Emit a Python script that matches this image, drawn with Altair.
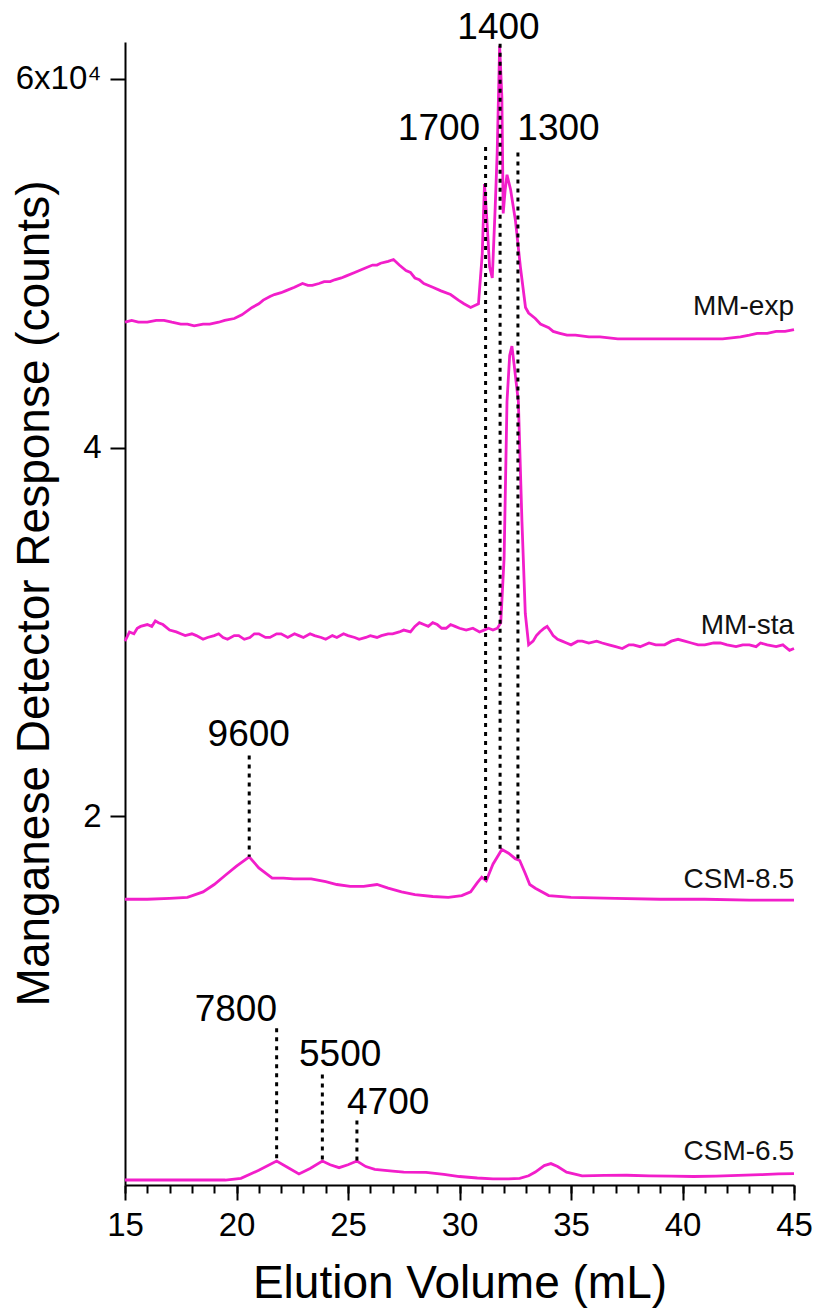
import altair as alt
import pandas as pd

# ---------------- data ----------------
mm_exp_x = [15.0, 15.3, 15.6, 16.0, 16.4, 16.75, 17.1, 17.5, 17.8, 18.1, 18.5, 18.8, 19.2, 19.47,
            19.9, 20.24, 20.7, 21.0, 21.2, 21.5, 21.7, 22.0, 22.2, 22.6, 22.96, 23.2, 23.4, 23.7,
            23.93, 24.2, 24.4, 24.7, 24.9, 25.3, 25.7, 26.1, 26.3, 26.46, 26.8, 27.04, 27.3, 27.6,
            27.8, 28.0, 28.2, 28.4, 28.8, 29.17, 29.6, 29.95, 30.2, 30.5, 30.85, 31.02, 31.12,
            31.22, 31.35, 31.47, 31.6, 31.69, 31.8, 31.9, 31.96, 32.05, 32.13, 32.29, 32.51, 32.73,
            32.96, 33.1, 33.4, 33.63, 34.0, 34.2, 34.5, 34.82, 35.2, 35.8, 36.3, 37.1, 38.0, 39.1,
            40.0, 41.0, 41.8, 42.6, 43.0, 43.35, 43.8, 44.2, 44.6, 45.0]
mm_exp_y = [4.68, 4.69, 4.68, 4.68, 4.69, 4.69, 4.68, 4.67, 4.67, 4.66, 4.67, 4.67, 4.68, 4.69,
            4.70, 4.72, 4.76, 4.78, 4.80, 4.82, 4.83, 4.84, 4.85, 4.87, 4.89, 4.88, 4.88, 4.89,
            4.90, 4.90, 4.91, 4.92, 4.93, 4.95, 4.97, 4.99, 4.99, 5.00, 5.01, 5.02, 4.99, 4.96,
            4.95, 4.92, 4.91, 4.89, 4.87, 4.85, 4.83, 4.80, 4.78, 4.76, 4.78, 5.05, 5.43,
            5.25, 4.98, 4.92, 5.30, 5.60, 6.18, 5.90, 5.27, 5.40, 5.48, 5.40, 5.23, 4.98,
            4.76, 4.73, 4.70, 4.67, 4.65, 4.63, 4.62, 4.61, 4.61, 4.60, 4.60, 4.59, 4.59, 4.59,
            4.59, 4.59, 4.59, 4.60, 4.61, 4.62, 4.62, 4.63, 4.63, 4.64]

mm_sta_x = [15.0, 15.2, 15.4, 15.55, 15.7, 16.0, 16.2, 16.36, 16.5, 16.7, 17.0, 17.3, 17.5, 17.7,
            18.0, 18.2, 18.5, 18.7, 19.0, 19.2, 19.4, 19.6, 19.9, 20.1, 20.35, 20.6, 20.8, 21.0,
            21.3, 21.5, 21.8, 22.0, 22.3, 22.6, 22.8, 23.0, 23.3, 23.5, 23.8, 24.0, 24.3, 24.5,
            24.8, 25.0, 25.3, 25.5, 25.8, 26.0, 26.3, 26.5, 26.8, 27.0, 27.3, 27.5, 27.8, 28.0,
            28.2, 28.4, 28.6, 28.8, 29.0, 29.2, 29.4, 29.6, 29.8, 30.0, 30.3, 30.6, 30.9, 31.1,
            31.3, 31.5, 31.7, 31.85, 32.0, 32.13, 32.25, 32.35, 32.45, 32.64, 32.8, 32.95, 33.1,
            33.3, 33.45, 33.6, 33.8, 33.93, 34.1, 34.2, 34.4, 34.6, 34.8, 35.0, 35.3, 35.5, 35.8,
            36.15, 36.4, 36.7, 37.0, 37.3, 37.6, 37.8, 38.1, 38.5, 38.8, 39.2, 39.5, 39.8, 40.1,
            40.4, 40.7, 41.0, 41.4, 41.7, 42.0, 42.4, 42.7, 43.0, 43.3, 43.5, 43.8, 44.2, 44.5,
            44.8, 45.0]
mm_sta_y = [2.95, 3.00, 2.99, 3.02, 3.03, 3.04, 3.03, 3.06, 3.05, 3.04, 3.01, 3.00, 2.99, 2.98,
            2.99, 2.98, 2.96, 2.97, 2.98, 2.99, 2.97, 2.96, 2.98, 2.98, 2.96, 2.97, 2.99, 2.99,
            2.97, 2.97, 2.99, 2.99, 2.97, 2.99, 2.98, 2.97, 2.99, 2.98, 2.97, 2.96, 2.98, 2.97,
            2.99, 2.98, 2.97, 2.96, 2.97, 2.98, 2.97, 2.98, 2.99, 2.99, 3.00, 3.01, 3.00, 3.03,
            3.05, 3.04, 3.03, 3.05, 3.04, 3.02, 3.02, 3.04, 3.03, 3.02, 3.01, 3.02, 3.00, 3.01,
            3.02, 3.01, 3.02, 3.05, 3.40, 4.25, 4.50, 4.55, 4.45, 4.25, 3.60, 3.10, 2.93,
            2.95, 2.98, 3.00, 3.02, 3.03, 3.00, 2.98, 2.96, 2.95, 2.94, 2.93, 2.95, 2.95, 2.94,
            2.95, 2.94, 2.93, 2.92, 2.91, 2.93, 2.93, 2.92, 2.94, 2.93, 2.93, 2.95, 2.96, 2.95,
            2.94, 2.93, 2.93, 2.94, 2.94, 2.93, 2.92, 2.93, 2.93, 2.92, 2.94, 2.93, 2.92, 2.93,
            2.90, 2.91]

csm85_x = [15.0, 16.0, 17.0, 17.8, 18.5, 19.0, 19.5, 20.0, 20.57, 21.0, 21.6, 22.1, 22.57, 23.35,
           24.0, 24.5, 25.1, 25.7, 26.3, 26.8, 27.4, 28.0, 28.8, 29.5, 30.1, 30.5, 30.8, 31.0,
           31.2, 31.5, 31.9, 32.2, 32.5, 32.7, 32.95, 33.15, 33.4, 34.0, 35.0, 37.0, 39.0, 41.0,
           43.0, 45.0]
csm85_y = [1.55, 1.55, 1.555, 1.56, 1.59, 1.63, 1.68, 1.73, 1.78, 1.72, 1.665, 1.665, 1.66, 1.66,
           1.645, 1.63, 1.62, 1.62, 1.63, 1.61, 1.59, 1.575, 1.565, 1.56, 1.57, 1.59, 1.64, 1.67,
           1.65, 1.74, 1.82, 1.80, 1.77, 1.76, 1.69, 1.63, 1.61, 1.57, 1.56, 1.555, 1.55, 1.55,
           1.545, 1.545]

csm65_x = [15.0, 17.0, 19.5, 20.2, 21.0, 21.8, 22.3, 22.8, 23.3, 23.85, 24.2, 24.6, 25.0, 25.4,
           25.8, 26.2, 27.0, 27.5, 28.5, 29.3, 30.0, 30.8, 31.5, 32.2, 32.7, 33.1, 33.4, 33.8,
           34.1, 34.4, 34.8, 35.5, 36.5, 37.5, 38.5, 39.5, 40.5, 41.5, 42.5, 43.5, 44.3, 45.0]
csm65_y = [0.027, 0.027, 0.027, 0.036, 0.08, 0.13, 0.095, 0.06, 0.09, 0.13, 0.11, 0.094, 0.11, 0.13,
           0.10, 0.085, 0.075, 0.07, 0.068, 0.058, 0.046, 0.038, 0.033, 0.033, 0.036, 0.05, 0.07, 0.105,
           0.116, 0.10, 0.07, 0.05, 0.052, 0.053, 0.05, 0.048, 0.046, 0.048, 0.052, 0.056, 0.06, 0.062]

series_names = ["MM-exp", "MM-sta", "CSM-8.5", "CSM-6.5"]
series_label_y = [4.72, 2.99, 1.61, 0.136]

# marker lines (molecular weight annotations)
mw_labels = ["1700", "1400", "1300", "9600", "7800", "5500", "4700"]
mw_line_x = [31.17, 31.82, 32.62, 20.57, 21.8, 23.85, 25.4]
mw_line_top = [5.63, 6.19, 5.60, 2.33, 0.85, 0.60, 0.35]
mw_line_bottom = [1.65, 1.82, 1.77, 1.78, 0.13, 0.13, 0.13]
mw_text_x = [29.08, 31.75, 34.44, 20.55, 19.97, 24.65, 26.8]
mw_text_y = [5.67, 6.215, 5.67, 2.38, 0.89, 0.645, 0.385]

x_major = [15, 20, 25, 30, 35, 40, 45]
x_minor = list(range(15, 46))
y_major = [2, 4, 6]

# ---------------- tables ----------------
frames = []
for name, xs, ys in zip(series_names, [mm_exp_x, mm_sta_x, csm85_x, csm65_x],
                        [mm_exp_y, mm_sta_y, csm85_y, csm65_y]):
    frames.append(pd.DataFrame({"series": name, "x": xs, "y": ys}))
traces = pd.concat(frames, ignore_index=True)

rules_df = pd.DataFrame({"x": mw_line_x, "y1": mw_line_top, "y2": mw_line_bottom})
ann_df = pd.DataFrame({"x": mw_text_x, "y": mw_text_y, "label": mw_labels})
lab_df = pd.DataFrame({"x": [45] * 4, "y": series_label_y, "label": series_names})
minor_df = pd.DataFrame({"x": x_minor})

FONT = "Liberation Sans"
MAGENTA = "#F21ECA"
W, H = 669, 1143

x_scale = alt.Scale(domain=[15, 45], nice=False, zero=False)
y_scale = alt.Scale(domain=[0, 6.2], nice=False, zero=False)

lines = alt.Chart(traces).mark_line(color=MAGENTA, strokeWidth=2.8).encode(
    x=alt.X("x:Q", scale=x_scale,
            axis=alt.Axis(values=x_major, title="Elution Volume (mL)", tickSize=15,
                          labelPadding=9, labelFontSize=33, labelFlush=False, labelOverlap=False,
                          titleFontSize=46, titleFontWeight="normal", titleX=W / 2, titleY=112,
                          titleAlign="center", titleBaseline="alphabetic", grid=False)),
    y=alt.Y("y:Q", scale=y_scale,
            axis=alt.Axis(values=y_major, title="Manganese Detector Response (counts)",
                          labelExpr="datum.value == 6 ? '6x10\u2074' : format(datum.value, 'd')",
                          tickSize=15, labelPadding=9, labelFontSize=33, labelFlush=False,
                          labelOverlap=False, titleFontSize=46, titleFontWeight="normal",
                          titleAngle=270, titleX=-77, titleY=551, titleAlign="center",
                          titleBaseline="alphabetic", grid=False)),
    detail="series:N",
)

rules = alt.Chart(rules_df).mark_rule(color="black", strokeWidth=3, strokeDash=[4, 5]).encode(
    x=alt.X("x:Q", scale=x_scale), y=alt.Y("y1:Q", scale=y_scale), y2="y2:Q")

ann = alt.Chart(ann_df).mark_text(font=FONT, fontSize=37, align="center",
                                  baseline="alphabetic", color="black").encode(
    x=alt.X("x:Q", scale=x_scale), y=alt.Y("y:Q", scale=y_scale), text="label:N")

labs = alt.Chart(lab_df).mark_text(font=FONT, fontSize=28, align="right",
                                   baseline="alphabetic", color="#111111").encode(
    x=alt.X("x:Q", scale=x_scale), y=alt.Y("y:Q", scale=y_scale), text="label:N")

main = alt.layer(lines, rules, ann, labs)

minor = alt.Chart(minor_df).mark_point(opacity=0).encode(
    x=alt.X("x:Q", scale=x_scale,
            axis=alt.Axis(values=x_minor, orient="bottom", labels=False, domain=False,
                          tickSize=8, title="", grid=False)))

chart = alt.layer(main, minor).resolve_scale(x="shared").resolve_axis(x="independent").properties(
    width=W, height=H,
    padding={"left": 125, "top": 42, "right": 24, "bottom": 127},
    autosize=alt.AutoSizeParams(type="none"),
).configure_axis(
    labelFont=FONT, titleFont=FONT, labelColor="black", titleColor="black",
    domainColor="black", tickColor="black", domainWidth=2, tickWidth=2,
).configure_view(strokeWidth=0)

chart.save("out.html", embed_options={"renderer": "svg", "actions": False})
